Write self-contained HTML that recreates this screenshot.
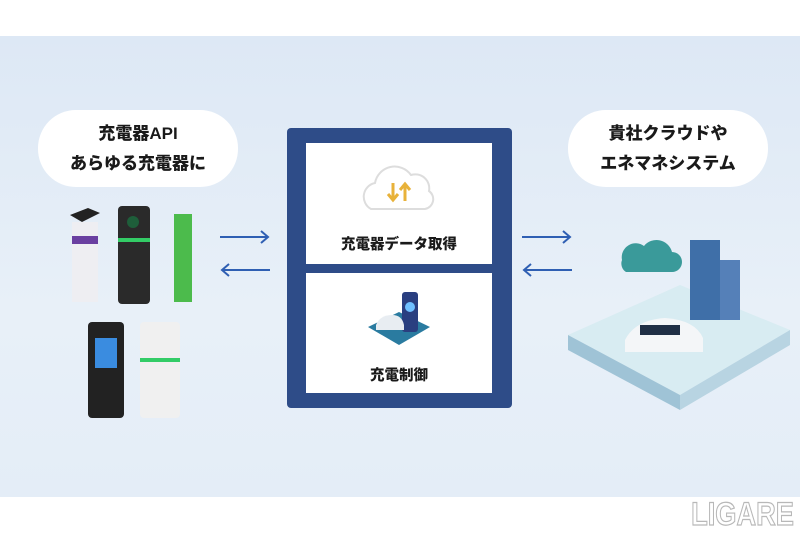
<!DOCTYPE html>
<html><head><meta charset="utf-8"><style>
*{margin:0;padding:0;box-sizing:border-box}
body{width:800px;height:533px;background:#fff;position:relative;overflow:hidden;font-family:"Liberation Sans","Noto Sans CJK JP",sans-serif}
.band{position:absolute;left:0;top:36px;width:800px;height:461px;background:linear-gradient(180deg,#dde8f5 0%,#e8f0f8 60%,#e4edf7 100%)}
.bub{position:absolute;top:110px;width:200px;height:77px;background:#fff;border-radius:38px;text-align:center;font-weight:900;font-size:17px;line-height:30px;padding-top:9px;color:#1a1a1a}
.box{position:absolute;left:287px;top:128px;width:225px;height:280px;background:#2e4c88;border-radius:4px}
.pan{position:absolute;left:19px;width:186px;background:#fff;text-align:center;font-weight:900;font-size:14.5px;color:#1a1a1a}
.lig{position:absolute;right:6px;top:496px;font-size:32px;font-weight:bold;color:#fff;-webkit-text-stroke:1.2px #b8b8b8;letter-spacing:0px;transform:scaleX(0.85);transform-origin:right}
</style></head><body>
<div class="band"></div>
<div class="bub" style="left:38px">充電器API<br>あらゆる充電器に</div>
<div class="bub" style="left:568px">貴社クラウドや<br>エネマネシステム</div>

<svg style="position:absolute;left:0;top:0" width="800" height="533">
<g stroke="#2f5fb3" stroke-width="2" fill="none">
<path d="M220 237H268M261 231L268 237L261 243"/>
<path d="M222 270H270M229 264L222 270L229 276"/>
<path d="M522 237H570M563 231L570 237L563 243"/>
<path d="M524 270H572M531 264L524 270L531 276"/>
</g>
<polygon points="70,215 88,208 100,213 82,222" fill="#222"/>
<rect x="72" y="222" width="26" height="80" fill="#eeeef2"/>
<rect x="72" y="236" width="26" height="8" fill="#6a3fa0"/>
<rect x="118" y="206" width="32" height="98" rx="4" fill="#2a2a2a"/>
<rect x="118" y="238" width="32" height="4" fill="#33cc66"/>
<circle cx="133" cy="222" r="6" fill="#1e5e3a"/>
<rect x="174" y="214" width="18" height="88" fill="#4cbb4c"/>
<rect x="88" y="322" width="36" height="96" rx="4" fill="#222"/>
<rect x="95" y="338" width="22" height="30" fill="#3a8ce0"/>
<rect x="140" y="322" width="40" height="96" rx="4" fill="#f0f0f0"/>
<rect x="140" y="358" width="40" height="4" fill="#33cc66"/>
<polygon points="568,335 680,285 790,330 680,395" fill="#d8ecf2"/>
<polygon points="568,335 680,395 680,410 568,350" fill="#9fc3d6"/>
<polygon points="680,395 790,330 790,345 680,410" fill="#b8d4e2"/>
<path d="M622 260a14 14 0 0 1 22-14a16 16 0 0 1 28 6a10 10 0 0 1 0 20h-46a10 10 0 0 1-4-12z" fill="#3a9a9a"/>
<rect x="690" y="240" width="30" height="80" fill="#3f6fa8"/>
<rect x="720" y="260" width="20" height="60" fill="#5580b8"/>
<path d="M625 340q10-20 40-22q30 2 38 20v14h-78z" fill="#f4f6f8"/>
<rect x="640" y="325" width="40" height="10" fill="#1f2f45"/>
</svg>

<div class="box">
<div class="pan" style="top:15px;height:121px">
<svg width="80" height="60" style="margin-top:18px"><path d="M12 48a14 14 0 0 1 4-26a20 20 0 0 1 36-8a14 14 0 0 1 18 16a10 10 0 0 1-4 18z" fill="#fff" stroke="#ddd" stroke-width="2"/>
<path d="M34 22v16M29 33l5 6l5-6" stroke="#e8b23a" stroke-width="3" fill="none"/><path d="M46 40v-16M41 29l5-6l5 6" stroke="#e8b23a" stroke-width="3" fill="none"/></svg>
<div style="margin-top:8px">充電器データ取得</div>
</div>
<div class="pan" style="top:145px;height:120px">
<svg width="70" height="65" style="margin-top:14px"><polygon points="4,40 35,25 66,40 35,58" fill="#2a7ba0"/><rect x="38" y="5" width="16" height="40" rx="3" fill="#2a3f80"/><circle cx="46" cy="20" r="5" fill="#6fc0ff"/><path d="M12 38q4-10 16-10q10 0 12 10v5H12z" fill="#e8edf2"/></svg>
<div style="margin-top:8px">充電制御</div>
</div>
</div>
<div class="lig">LIGARE</div>
</body></html>
